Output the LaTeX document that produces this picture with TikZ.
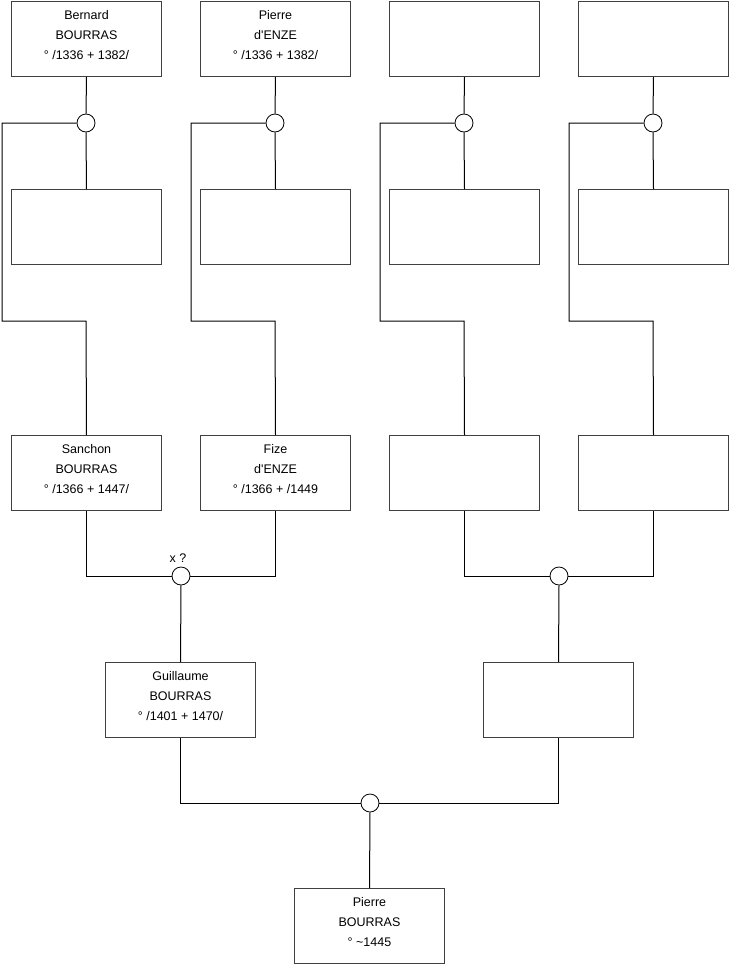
\documentclass[tikz,border=0pt]{standalone}
\usepackage{fontspec}
\setmainfont{Liberation Sans}[Ligatures=TeXOff]
\begin{document}
\begin{tikzpicture}[x=1pt,y=-1pt,
  person/.style={draw=black!75,line width=1pt,minimum width=150pt,minimum height=75pt,
    anchor=north west,align=center,inner sep=0pt,font=\fontsize{12.5}{20}\selectfont,text depth=8pt},
  union/.style={circle,draw=black,line width=0.8pt,fill=white,minimum size=18pt,inner sep=0pt},
  link/.style={draw=black,line width=1pt}]
\useasboundingbox (0,0) rectangle (740,975);
% row 1
\node[person] (a1) at (11,1) {Bernard\\BOURRAS\\° /1336 + 1382/};
\node[person] (a2) at (200,1) {Pierre\\d'ENZE\\° /1336 + 1382/};
\node[person] (a3) at (389,1) {};
\node[person] (a4) at (578,1) {};
% circles row 1
\node[union] (c1) at (86,123) {};
\node[union] (c2) at (275,123) {};
\node[union] (c3) at (464,123) {};
\node[union] (c4) at (653,123) {};
% row 2
\node[person] (b1) at (11,189) {};
\node[person] (b2) at (200,189) {};
\node[person] (b3) at (389,189) {};
\node[person] (b4) at (578,189) {};
% row 3
\node[person] (s1) at (11,435) {Sanchon\\BOURRAS\\° /1366 + 1447/};
\node[person] (s2) at (200,435) {Fize\\d'ENZE\\° /1366 + /1449};
\node[person] (s3) at (389,435) {};
\node[person] (s4) at (578,435) {};
% circles row 2
\node[union] (cL) at (181,576) {};
\node[union] (cR) at (559,576) {};
\node[font=\fontsize{12.5}{15}\selectfont,anchor=south] (xq) at (178,566) {x ?};
% row 4
\node[person] (g1) at (105,662) {Guillaume\\BOURRAS\\° /1401 + 1470/};
\node[person] (g2) at (483,662) {};
% bottom circle
\node[union] (cB) at (370,803) {};
\node[person] (p) at (294,888) {Pierre\\BOURRAS\\° \char`\~1445};

% connectors top
\foreach \i in {1,2,3,4}{
  \draw[link] (a\i.south) -- (c\i.north);
  \draw[link] (c\i.south) -- (b\i.north);
}
\coordinate (k1a) at (2,123);   \coordinate (k1b) at (2,321);   \coordinate (k1c) at (86,321);
\coordinate (k2a) at (191,123); \coordinate (k2b) at (191,321); \coordinate (k2c) at (275,321);
\coordinate (k3a) at (380,123); \coordinate (k3b) at (380,321); \coordinate (k3c) at (464,321);
\coordinate (k4a) at (569,123); \coordinate (k4b) at (569,321); \coordinate (k4c) at (653,321);
\foreach \i in {1,2,3,4}{
  \draw[link] (c\i.west) -- (k\i a) -- (k\i b) -- (k\i c) -- (s\i.north);
}
% middle
\draw[link] (s1.south) |- (cL.west);
\draw[link] (s2.south) |- (cL.east);
\draw[link] (s3.south) |- (cR.west);
\draw[link] (s4.south) |- (cR.east);
\draw[link] (cL.south) -- (g1.north);
\draw[link] (cR.south) -- (g2.north);
% bottom
\draw[link] (g1.south) |- (cB.west);
\draw[link] (g2.south) |- (cB.east);
\draw[link] (cB.south) -- (p.north);
\end{tikzpicture}
\end{document}
